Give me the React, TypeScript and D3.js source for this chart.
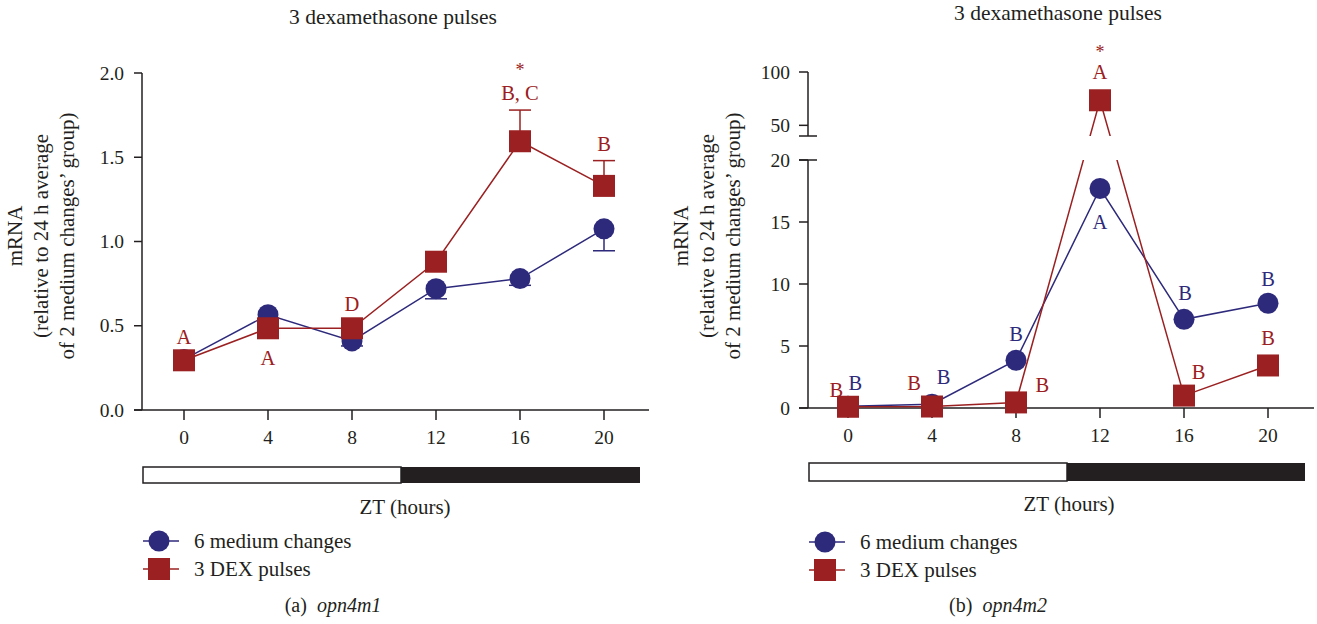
import React from "react";
import * as d3 from "d3";

// ---------- data ----------
const ztHours = [0, 4, 8, 12, 16, 20];
const xTickLabels = ["0", "4", "8", "12", "16", "20"];

// panel (a) opn4m1
const m1Medium = [0.3, 0.565, 0.41, 0.72, 0.78, 1.075];
const m1MediumErr = [0.02, 0.03, 0.03, 0.06, 0.04, 0.13];
const m1Dex = [0.295, 0.485, 0.485, 0.88, 1.595, 1.33];
const m1DexErr = [0.02, 0.03, 0.03, 0.05, 0.185, 0.15];
const m1YTicks = [0, 0.5, 1.0, 1.5, 2.0];
const m1YTickLabels = ["0.0", "0.5", "1.0", "1.5", "2.0"];
const m1Letters = [
  { zt: 0, v: 0.39, text: "A", series: "dex" },
  { zt: 4, v: 0.27, text: "A", series: "dex" },
  { zt: 8, v: 0.59, text: "D", series: "dex" },
  { zt: 16, v: 1.84, text: "B, C", series: "dex" },
  { zt: 16, v: 1.985, text: "*", series: "dex" },
  { zt: 20, v: 1.54, text: "B", series: "dex" },
];

// panel (b) opn4m2
const m2Medium = [0.15, 0.3, 3.85, 17.7, 7.15, 8.45];
const m2Dex = [0.1, 0.12, 0.45, 73.5, 1.0, 3.43];
const m2YTicksLow = [0, 5, 10, 15, 20];
const m2YTicksHigh = [50, 100];
const m2Letters = [
  { zt: -0.55, v: 0.89, text: "B", series: "dex" },
  { zt: 0.35, v: 1.45, text: "B", series: "med" },
  { zt: 3.15, v: 1.45, text: "B", series: "dex" },
  { zt: 4.55, v: 1.94, text: "B", series: "med" },
  { zt: 8.0, v: 5.4, text: "B", series: "med" },
  { zt: 9.25, v: 1.29, text: "B", series: "dex" },
  { zt: 12, v: 93.5, text: "A", series: "dex" },
  { zt: 12, v: 113, text: "*", series: "dex" },
  { zt: 12, v: 14.4, text: "A", series: "med" },
  { zt: 16.05, v: 8.7, text: "B", series: "med" },
  { zt: 20, v: 9.84, text: "B", series: "med" },
  { zt: 16.7, v: 2.34, text: "B", series: "dex" },
  { zt: 20, v: 5.08, text: "B", series: "dex" },
];

const legendLabels = ["6 medium changes", "3 DEX pulses"];
const titleText = "3 dexamethasone pulses";
const yLabelLines = ["mRNA", "(relative to 24 h average", "of 2 medium changes\u2019 group)"];

// ---------- styles ----------
const BLUE = "#2e2a7b";
const RED = "#9b2021";
const INK = "#231f20";
const FONT = "'Liberation Serif', 'Times New Roman', serif";

function Circle({ cx, cy }: { cx: number; cy: number }) {
  return <circle cx={cx} cy={cy} r={10.5} fill={BLUE} />;
}
function Square({ cx, cy }: { cx: number; cy: number }) {
  return <rect x={cx - 11} y={cy - 11} width={22} height={22} fill={RED} />;
}

function Legend({ x, y }: { x: number; y: number }) {
  return (
    <g>
      <line x1={x - 16} x2={x + 20} y1={y} y2={y} stroke={BLUE} strokeWidth={1.5} />
      <Circle cx={x} cy={y} />
      <text x={x + 35} y={y + 7} fontSize={21} fill={INK}>{legendLabels[0]}</text>
      <line x1={x - 16} x2={x + 20} y1={y + 28} y2={y + 28} stroke={RED} strokeWidth={1.5} />
      <Square cx={x} cy={y + 28} />
      <text x={x + 35} y={y + 35} fontSize={21} fill={INK}>{legendLabels[1]}</text>
    </g>
  );
}

function YLabel({ cx, cy }: { cx: number; cy: number }) {
  return (
    <g transform={`translate(${cx},${cy}) rotate(-90)`}>
      {yLabelLines.map((t, i) => (
        <text key={i} x={0} y={i * 26} textAnchor="middle" fontSize={21} fill={INK}>{t}</text>
      ))}
    </g>
  );
}

function LightBar({ x0, xm, x1, y, h }: { x0: number; xm: number; x1: number; y: number; h: number }) {
  return (
    <g>
      <rect x={xm} y={y} width={x1 - xm} height={h} fill={INK} />
      <rect x={x0} y={y} width={xm - x0} height={h} fill="#fff" stroke={INK} strokeWidth={1.5} />
    </g>
  );
}

function PanelA() {
  const x = d3.scaleLinear().domain([0, 20]).range([184, 604]);
  const y = d3.scaleLinear().domain([0, 2]).range([410, 73]);
  const axX = 142;
  const line = d3.line<number>().x((_, i) => x(ztHours[i])).y((v) => y(v));
  return (
    <g>
      <text x={393} y={24} textAnchor="middle" fontSize={21.5} fill={INK}>{titleText}</text>
      <YLabel cx={22} cy={236} />
      {/* axes */}
      <line x1={axX} x2={axX} y1={y(2)} y2={y(0)} stroke={INK} strokeWidth={1.5} />
      <line x1={axX - 8} x2={649} y1={y(0)} y2={y(0)} stroke={INK} strokeWidth={1.5} />
      {m1YTicks.map((t, i) => (
        <g key={i}>
          <line x1={axX - 8} x2={axX} y1={y(t)} y2={y(t)} stroke={INK} strokeWidth={1.5} />
          <text x={axX - 18} y={y(t) + 6.5} textAnchor="end" fontSize={19.5} fill={INK}>{m1YTickLabels[i]}</text>
        </g>
      ))}
      {ztHours.map((h, i) => (
        <g key={i}>
          <line x1={x(h)} x2={x(h)} y1={y(0)} y2={y(0) + 10} stroke={INK} strokeWidth={1.5} />
          <text x={x(h)} y={444} textAnchor="middle" fontSize={19.5} fill={INK}>{xTickLabels[i]}</text>
        </g>
      ))}
      {/* error bars */}
      {m1Medium.map((v, i) => (
        <g key={"eb" + i} stroke={BLUE} strokeWidth={1.5}>
          <line x1={x(ztHours[i])} x2={x(ztHours[i])} y1={y(v)} y2={y(v - m1MediumErr[i])} />
          <line x1={x(ztHours[i]) - 11} x2={x(ztHours[i]) + 11} y1={y(v - m1MediumErr[i])} y2={y(v - m1MediumErr[i])} />
        </g>
      ))}
      {m1Dex.map((v, i) => (
        <g key={"er" + i} stroke={RED} strokeWidth={1.5}>
          <line x1={x(ztHours[i])} x2={x(ztHours[i])} y1={y(v)} y2={y(v + m1DexErr[i])} />
          <line x1={x(ztHours[i]) - 11} x2={x(ztHours[i]) + 11} y1={y(v + m1DexErr[i])} y2={y(v + m1DexErr[i])} />
        </g>
      ))}
      <path d={line(m1Medium) || ""} fill="none" stroke={BLUE} strokeWidth={1.5} />
      {m1Medium.map((v, i) => <Circle key={"c" + i} cx={x(ztHours[i])} cy={y(v)} />)}
      <path d={line(m1Dex) || ""} fill="none" stroke={RED} strokeWidth={1.5} />
      {m1Dex.map((v, i) => <Square key={"s" + i} cx={x(ztHours[i])} cy={y(v)} />)}
      {m1Letters.map((l, i) => (
        <text key={"l" + i} x={x(l.zt)} y={y(l.v)} textAnchor="middle" fontSize={l.text === "*" ? 18 : 20.5}
          fill={l.series === "dex" ? RED : BLUE}>{l.text}</text>
      ))}
      <LightBar x0={143} xm={401} x1={640} y={467} h={16} />
      <text x={405} y={514} textAnchor="middle" fontSize={21} fill={INK}>ZT (hours)</text>
      <Legend x={159} y={541} />
      <text x={333} y={612} textAnchor="middle" fontSize={20} fill={INK}>
        (a)<tspan dx={10} fontStyle="italic">opn4m1</tspan>
      </text>
    </g>
  );
}

function PanelB() {
  const x = d3.scaleLinear().domain([0, 20]).range([848, 1268]);
  const yLow = d3.scaleLinear().domain([0, 20]).range([408, 160]);
  const yHigh = d3.scaleLinear().domain([40, 100]).range([136, 72]);
  const y = (v: number) => (v <= 20 ? yLow(v) : v >= 40 ? yHigh(v) : (yLow(20) + yHigh(40)) / 2);
  const axX = 808;
  const line = d3.line<number>().x((_, i) => x(ztHours[i])).y((v) => y(v));
  return (
    <g>
      <defs>
        <clipPath id="breakClip">
          <rect x={700} y={0} width={700} height={yHigh(40)} />
          <rect x={700} y={yLow(20)} width={700} height={400} />
        </clipPath>
      </defs>
      <text x={1058} y={20} textAnchor="middle" fontSize={21.5} fill={INK}>{titleText}</text>
      <YLabel cx={688} cy={236} />
      {/* axes */}
      <line x1={axX} x2={axX} y1={yLow(20)} y2={yLow(0)} stroke={INK} strokeWidth={1.5} />
      <line x1={axX} x2={axX} y1={yHigh(100)} y2={yHigh(40)} stroke={INK} strokeWidth={1.5} />
      <line x1={axX - 9} x2={axX + 9} y1={yHigh(40)} y2={yHigh(40)} stroke={INK} strokeWidth={1.5} />
      <line x1={axX - 9} x2={axX + 9} y1={yLow(20)} y2={yLow(20)} stroke={INK} strokeWidth={1.5} />
      <line x1={axX - 9} x2={1314} y1={yLow(0)} y2={yLow(0)} stroke={INK} strokeWidth={1.5} />
      {m2YTicksLow.map((t, i) => (
        <g key={"lt" + i}>
          <line x1={axX - 9} x2={axX} y1={yLow(t)} y2={yLow(t)} stroke={INK} strokeWidth={1.5} />
          <text x={axX - 18} y={yLow(t) + 6.5} textAnchor="end" fontSize={19.5} fill={INK}>{String(t)}</text>
        </g>
      ))}
      {m2YTicksHigh.map((t, i) => (
        <g key={"ht" + i}>
          <line x1={axX - 9} x2={axX} y1={yHigh(t)} y2={yHigh(t)} stroke={INK} strokeWidth={1.5} />
          <text x={axX - 18} y={yHigh(t) + 6.5} textAnchor="end" fontSize={19.5} fill={INK}>{String(t)}</text>
        </g>
      ))}
      {ztHours.map((h, i) => (
        <g key={i}>
          <line x1={x(h)} x2={x(h)} y1={yLow(0)} y2={yLow(0) + 10} stroke={INK} strokeWidth={1.5} />
          <text x={x(h)} y={442} textAnchor="middle" fontSize={19.5} fill={INK}>{xTickLabels[i]}</text>
        </g>
      ))}
      <g clipPath="url(#breakClip)">
        <path d={line(m2Medium) || ""} fill="none" stroke={BLUE} strokeWidth={1.5} />
      </g>
      {m2Medium.map((v, i) => <Circle key={"c" + i} cx={x(ztHours[i])} cy={y(v)} />)}
      <g clipPath="url(#breakClip)">
        <path d={line(m2Dex) || ""} fill="none" stroke={RED} strokeWidth={1.5} />
      </g>
      {m2Dex.map((v, i) => <Square key={"s" + i} cx={x(ztHours[i])} cy={y(v)} />)}
      {m2Letters.map((l, i) => (
        <text key={"l" + i} x={x(l.zt)} y={y(l.v)} textAnchor="middle" fontSize={l.text === "*" ? 18 : 20.5}
          fill={l.series === "dex" ? RED : BLUE}>{l.text}</text>
      ))}
      <LightBar x0={809} xm={1067} x1={1305} y={463} h={18} />
      <text x={1069} y={511} textAnchor="middle" fontSize={21} fill={INK}>ZT (hours)</text>
      <Legend x={825} y={542} />
      <text x={998} y={612} textAnchor="middle" fontSize={20} fill={INK}>
        (b)<tspan dx={10} fontStyle="italic">opn4m2</tspan>
      </text>
    </g>
  );
}

export default function App() {
  return (
    <svg width={1317} height={624} style={{ position: "absolute", left: 0, top: 0, fontFamily: FONT }}>
      <rect width={1317} height={624} fill="#fff" />
      <PanelA />
      <PanelB />
    </svg>
  );
}
